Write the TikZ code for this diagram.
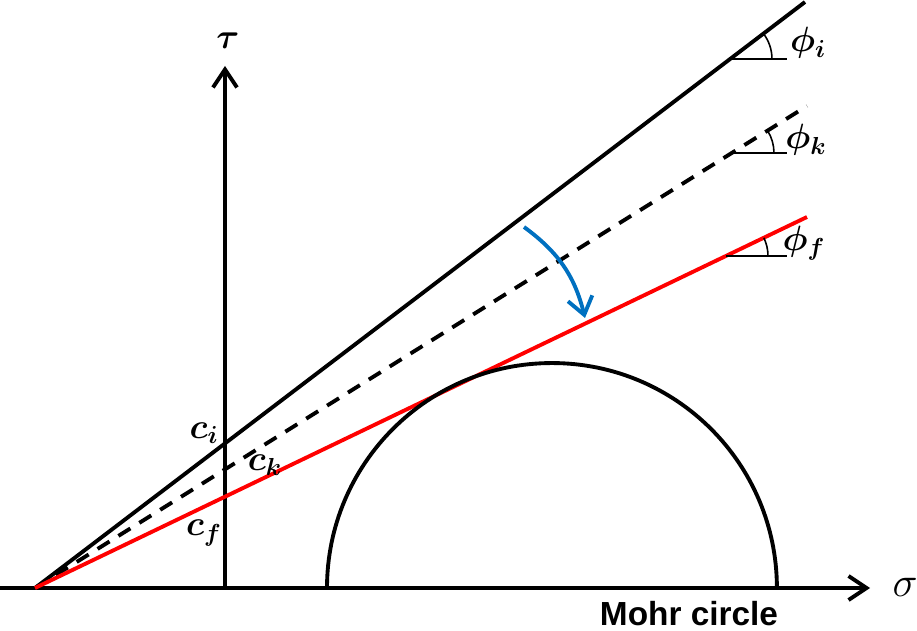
\documentclass[tikz,border=0pt]{standalone}
\usepackage{fix-cm}
\usepackage{amsmath}
\usepackage{fontspec}
\newfontfamily\captionfont{Liberation Sans}
\usetikzlibrary{arrows.meta,angles}
\definecolor{arrowblue}{RGB}{0,112,192}

\begin{document}
\begin{tikzpicture}[x=0.02cm, y=-0.02cm,
  axis/.style={line width=2.2pt, -{Straight Barb[length=3.6mm, width=4.8mm, line width=2.2pt]}},
  envelope/.style={line width=2.2pt},
  anglemark/.style={draw, line width=0.9pt, angle radius=0.84cm},
  mathlabel/.style={font=\fontsize{20}{22}\selectfont},
  turn/.style={arrowblue, line width=2.2pt, -{Straight Barb[length=3.4mm, width=5mm, line width=2.2pt]}}]
  \useasboundingbox (0,0) rectangle (917,631);

  % axes
  \coordinate (xstart) at (0,588);
  \coordinate (xend) at (870,588);
  \coordinate (ystart) at (225,588);
  \coordinate (yend) at (225,66);
  \draw[axis] (xstart) -- (xend);
  \draw[axis] (ystart) -- (yend);
  \node[font=\fontsize{24}{26}\selectfont] (sigma) at (905,587) {$\sigma$};
  \node[mathlabel] (tau) at (228,41) {$\boldsymbol{\tau}$};

  % failure envelopes
  \coordinate (origin) at (35,588);
  \coordinate (endi) at (805,2);
  \coordinate (endk) at (807,106);
  \coordinate (endf) at (807,217);
  \draw[envelope] (origin) -- (endi);
  \draw[envelope, dash pattern=on 8pt off 6pt] (origin) -- (endk);
  \draw[envelope, red] (origin) -- (endf);

  % friction angles
  \coordinate (vi) at (730,59);
  \coordinate (hi) at (787,59);
  \coordinate (vk) at (732,153);
  \coordinate (hk) at (787,153);
  \coordinate (vf) at (726,256);
  \coordinate (hf) at (787,256);
  \draw[line width=0.9pt] (vi) -- (hi);
  \draw[line width=0.9pt] (vk) -- (hk);
  \draw[line width=0.9pt] (vf) -- (hf);
  \pic[anglemark] {angle = hi--vi--endi};
  \pic[anglemark] {angle = hk--vk--endk};
  \pic[anglemark] {angle = hf--vf--endf};
  \node[mathlabel] (phii) at (808,43) {$\boldsymbol{\phi_i}$};
  \node[mathlabel] (phik) at (806,140) {$\boldsymbol{\phi_k}$};
  \node[mathlabel] (phif) at (804,243) {$\boldsymbol{\phi_f}$};

  % cohesion
  \node[mathlabel] (ci) at (204,433) {$\boldsymbol{c_i}$};
  \node[mathlabel] (ck) at (265,465) {$\boldsymbol{c_k}$};
  \node[mathlabel] (cf) at (204,533) {$\boldsymbol{c_f}$};

  % Mohr circle
  \coordinate (mohrleft) at (327,588);
  \draw[envelope] (mohrleft) arc[start angle=180, end angle=0, radius=4.5cm];
  \node[font=\captionfont\bfseries\fontsize{19}{21}\selectfont] (mohr) at (689,614) {Mohr circle};

  % degradation arrow
  \coordinate (turnstart) at (524,227);
  \coordinate (turnend) at (585,318);
  \draw[turn] (turnstart) to[bend left=20] (turnend);
\end{tikzpicture}
\end{document}
